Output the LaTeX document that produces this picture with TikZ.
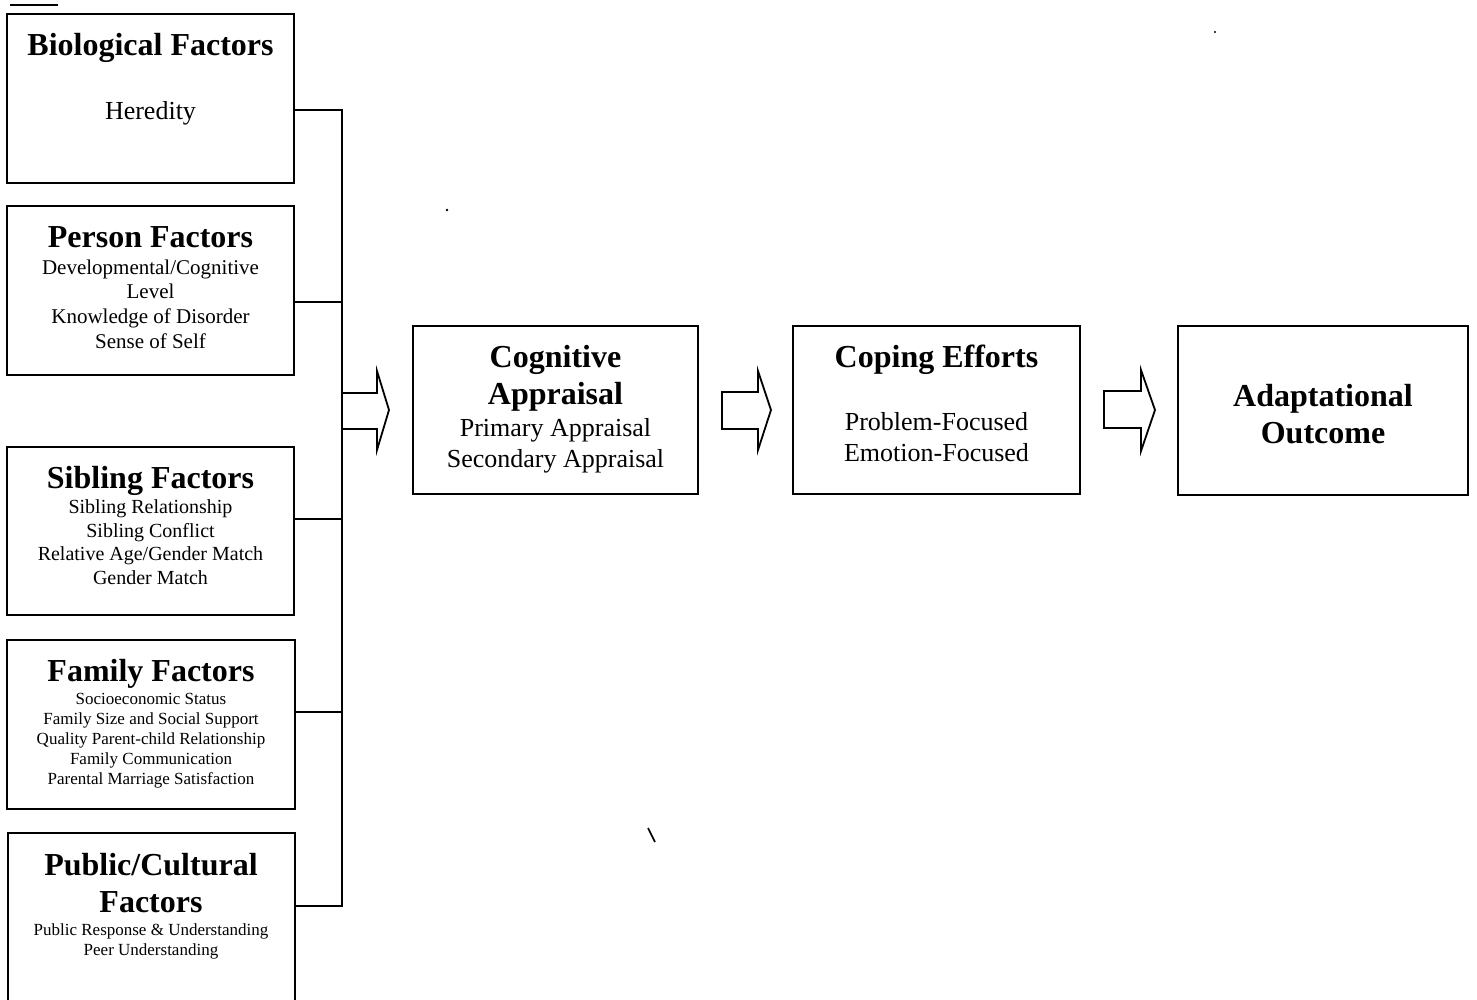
\documentclass[tikz,border=0pt]{standalone}
\usepackage{fontspec}
\setmainfont{Liberation Serif}
\begin{document}
\begin{tikzpicture}[x=1pt,y=-1pt,line width=1.6pt,line join=miter,
  box/.style={draw,line width=1.6pt,inner sep=0pt,outer sep=0pt,anchor=north west},
  ttl/.style={font=\fontsize{32}{37}\selectfont\bfseries,align=center,inner sep=0pt},
  bA/.style={font=\fontsize{26}{31}\selectfont,align=center,inner sep=0pt},
  bB/.style={font=\fontsize{21}{24.7}\selectfont,align=center,inner sep=0pt},
  bC/.style={font=\fontsize{20}{23.5}\selectfont,align=center,inner sep=0pt},
  bD/.style={font=\fontsize{17}{20}\selectfont,align=center,inner sep=0pt},
  bigarrow/.style={draw,line width=1.8pt,line join=miter}]
\useasboundingbox (0,0) rectangle (1477,999);

% boxes
\node[box,minimum width=287pt,minimum height=169pt] (bio) at (7,14) {};
\node[box,minimum width=287pt,minimum height=169pt] (per) at (7,206) {};
\node[box,minimum width=287pt,minimum height=168pt] (sib) at (7,447) {};
\node[box,minimum width=288pt,minimum height=169pt] (fam) at (7,640) {};
\node[box,minimum width=287pt,minimum height=185pt] (pub) at (8,833) {};
\node[box,minimum width=285pt,minimum height=168pt] (cog) at (413,326) {};
\node[box,minimum width=287pt,minimum height=168pt] (cop) at (793,326) {};
\node[box,minimum width=290pt,minimum height=169pt] (ada) at (1178,326) {};

% texts
\node[ttl,anchor=base] (bioT) at (150.5,55) {Biological Factors};
\node[bA,anchor=base] (bioB) at (150.5,119) {Heredity};

\node[ttl,anchor=base] (perT) at (150.5,247) {Person Factors};
\node[bB] (perB) at (150.5,304) {Developmental/Cognitive\\Level\\Knowledge of Disorder\\Sense of Self};

\node[ttl,anchor=base] (sibT) at (150.5,488) {Sibling Factors};
\node[bC] (sibB) at (150.5,542) {Sibling Relationship\\Sibling Conflict\\Relative Age/Gender Match\\Gender Match};

\node[ttl,anchor=base] (famT) at (151,681) {Family Factors};
\node[bD] (famB) at (151,740.5) {Socioeconomic Status\\Family Size and Social Support\\Quality Parent-child Relationship\\Family Communication\\Parental Marriage Satisfaction};

\node[ttl] (pubT) at (151,883.5) {Public/Cultural\\Factors};
\node[bD] (pubB) at (151,941.5) {Public Response \& Understanding\\Peer Understanding};

\node[ttl] (cogT) at (555.5,378) {Cognitive\\Appraisal};
\node[bA] (cogB) at (555.5,446) {Primary Appraisal\\Secondary Appraisal};

\node[ttl,anchor=base] (copT) at (936.5,367) {Coping Efforts};
\node[bA] (copB) at (936.5,437) {Problem-Focused\\Emotion-Focused};

\node[ttl] (adaT) at (1323,414) {Adaptational\\Outcome};

% bus connectors
\coordinate (j1) at (342,110);
\coordinate (j2) at (342,302);
\coordinate (j3) at (342,519);
\coordinate (j4) at (342,712);
\coordinate (j5) at (342,906);
\draw (j1 -| bio.east) -- (j1) -- (j5) -- (j5 -| pub.east);
\draw (j2 -| per.east) -- (j2);
\draw (j3 -| sib.east) -- (j3);
\draw (j4 -| fam.east) -- (j4);

% block arrows
\coordinate (a1) at (342,393);
\draw[bigarrow] (a1) -- (377,393) -- (377,371) -- (389,410) -- (377,450) -- (377,429) -- (342,429);
\draw[bigarrow] (722,392) -- (758,392) -- (758,371) -- (771,410) -- (758,450) -- (758,429) -- (722,429) -- cycle;
\draw[bigarrow] (1104,391) -- (1141,391) -- (1141,370) -- (1155,410) -- (1141,451) -- (1141,428) -- (1104,428) -- cycle;

% stray marks of the original
\draw[line width=2pt] (10,5) -- (58,5);
\draw[line width=1.6pt] (648,828) -- (655,842);
\fill (1215,32) circle (1.2pt);
\fill (447,210) circle (1.4pt);
\end{tikzpicture}
\end{document}
